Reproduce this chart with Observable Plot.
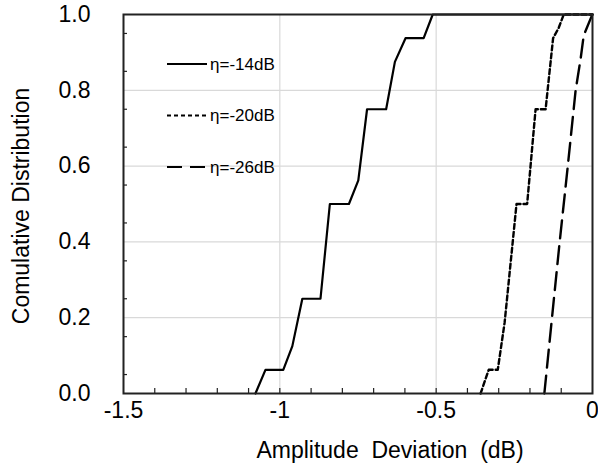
<!DOCTYPE html>
<html>
<head>
<meta charset="utf-8">
<script src="https://cdn.jsdelivr.net/npm/d3@7"></script>
<script src="https://cdn.jsdelivr.net/npm/@observablehq/plot@0.6"></script>
<style>
  html, body { margin: 0; padding: 0; background: #fff; }
  #chart svg text { white-space: pre; }
</style>
</head>
<body>
<div id="chart"></div>
<script>
// ---- data ----
const seriesNames = ["η=-14dB", "η=-20dB", "η=-26dB"];

const x14 = [-1.078, -1.046, -0.989, -0.960, -0.928, -0.870, -0.840, -0.779, -0.749, -0.721, -0.660, -0.632, -0.598, -0.540, -0.511, 0];
const y14 = [0, 0.0625, 0.0625, 0.125, 0.25, 0.25, 0.5, 0.5, 0.5625, 0.75, 0.75, 0.875, 0.9375, 0.9375, 1, 1];

const x20 = [-0.358, -0.332, -0.303, -0.281, -0.243, -0.209, -0.182, -0.150, -0.126, -0.108, -0.092, 0];
const y20 = [0, 0.0625, 0.0625, 0.1875, 0.5, 0.5, 0.75, 0.75, 0.9375, 0.965, 1, 1];

const x26 = [-0.154, -0.132, -0.105, -0.079, -0.054, -0.038, -0.028, -0.004, 0];
const y26 = [0, 0.18, 0.4, 0.6, 0.8, 0.883, 0.945, 0.993, 1];

const xTicks = [-1.5, -1, -0.5, 0];
const yTicks = [0, 0.2, 0.4, 0.6, 0.8, 1.0];
const xMinor = [-1.4, -1.3, -1.2, -1.1, -1.0, -0.9, -0.8, -0.7, -0.6, -0.5, -0.4, -0.3, -0.2, -0.1];
const yMinor = [0.05, 0.15, 0.25, 0.35, 0.45, 0.55, 0.65, 0.75, 0.85, 0.95];
const xLabel = "Amplitude  Deviation  (dB)";
const yLabel = "Comulative Distribution";

// ---- build ----
const toRows = (xs, ys, name) => xs.map((x, i) => ({x, y: ys[i], series: name}));
const rows14 = toRows(x14, y14, seriesNames[0]);
const rows20 = toRows(x20, y20, seriesNames[1]);
const rows26 = toRows(x26, y26, seriesNames[2]);

const W = 598, H = 474;
const mL = 123, mR = 6, mT = 14, mB = 81;
const plotH = H - mT - mB, plotW = W - mL - mR;

const dashes = ["none", "5,3", "18,8"];
const FS = 23;

const chart = Plot.plot({
  width: W, height: H,
  marginLeft: mL, marginRight: mR, marginTop: mT, marginBottom: mB,
  x: {domain: [-1.5, 0]},
  y: {domain: [0, 1]},
  style: {fontFamily: "'Liberation Sans', Arial, sans-serif", fontSize: FS + "px", color: "#000", background: "#fff"},
  marks: [
    Plot.gridX(xTicks, {stroke: "#d9d9d9", strokeOpacity: 1, strokeWidth: 1.2}),
    Plot.gridY(yTicks, {stroke: "#d9d9d9", strokeOpacity: 1, strokeWidth: 1.2}),
    Plot.tickX(xMinor, {x: d => d, insetTop: plotH - 5, stroke: "#222", strokeWidth: 1.2}),
    Plot.tickY(yMinor, {y: d => d, insetRight: plotW - 4, stroke: "#222", strokeWidth: 1.2}),
    Plot.line(rows14, {x: "x", y: "y", stroke: "#000", strokeWidth: 2.2}),
    Plot.line(rows20, {x: "x", y: "y", stroke: "#000", strokeWidth: 2.4, strokeDasharray: dashes[1]}),
    Plot.line(rows26, {x: "x", y: "y", stroke: "#000", strokeWidth: 2.4, strokeDasharray: dashes[2]}),
    Plot.frame({stroke: "#222", strokeWidth: 2}),
    Plot.axisX(xTicks, {tickSize: 0, tickPadding: 8, tickFormat: d => String(d), label: null, fontSize: FS}),
    Plot.axisY(yTicks, {tickSize: 0, tickPadding: 33, tickFormat: d => d.toFixed(1), label: null, fontSize: FS}),
    Plot.text([xLabel], {text: d => d, frameAnchor: "bottom", textAnchor: "middle", lineAnchor: "middle", dx: 32, dy: 57, fontSize: FS}),
    Plot.text([yLabel], {text: d => d, frameAnchor: "left", textAnchor: "middle", lineAnchor: "middle", rotate: -90, dx: -102, dy: 2, fontSize: FS})
  ]
});

// ---- legend inside the plot, top-left ----
const svg = d3.select(chart);
const legend = svg.append("g").attr("transform", `translate(${mL + 44},${mT + 50})`);
seriesNames.forEach((name, i) => {
  const g = legend.append("g").attr("transform", `translate(0,${i * 51.5})`);
  g.append("line").attr("x1", 0).attr("x2", 40).attr("y1", 0).attr("y2", 0)
    .attr("stroke", "#000").attr("stroke-width", 2)
    .attr("stroke-dasharray", i === 0 ? null : (i === 1 ? "4,3" : "15,8"));
  g.append("text").attr("x", 43).attr("y", 0).attr("dy", "0.35em")
    .attr("text-anchor", "start")
    .attr("font-size", 17).attr("fill", "#000").text(name);
});

document.getElementById("chart").appendChild(chart);
</script>
</body>
</html>
